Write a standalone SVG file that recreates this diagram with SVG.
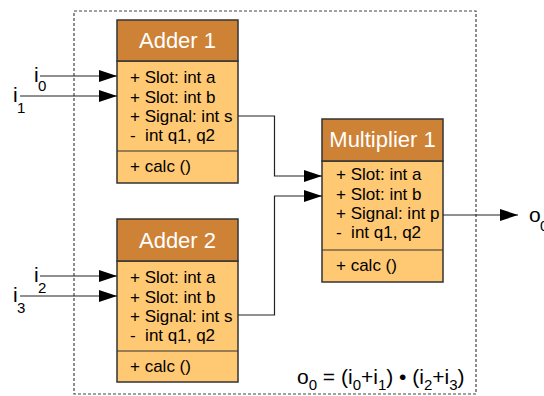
<svg xmlns="http://www.w3.org/2000/svg" width="544" height="396" viewBox="0 0 544 396">
<defs>
<marker id="ah" markerWidth="18" markerHeight="12" refX="18" refY="6" orient="auto" markerUnits="userSpaceOnUse">
<path d="M0,0 L18,6 L0,12 Z" fill="#000"/>
</marker>
<style>
.hd{fill:#CD8236;stroke:#333;stroke-width:1.5}
.bd{fill:#FFC872;stroke:#333;stroke-width:1.5}
.dv{stroke:#333;stroke-width:1.2}
.t{font-family:"Liberation Sans",Arial,sans-serif;font-size:17px;fill:#000;white-space:pre}
.h{font-family:"Liberation Sans",Arial,sans-serif;font-size:22px;fill:#fff;text-anchor:middle}
.l{font-family:"Liberation Sans",Arial,sans-serif;font-size:21px;fill:#000}
.s{font-family:"Liberation Sans",Arial,sans-serif;font-size:15px;fill:#000}
.c{fill:none;stroke:#222;stroke-width:1.2}
</style>
</defs>
<rect x="74" y="11" width="402" height="383" fill="none" stroke="#444" stroke-width="1.2" stroke-dasharray="3,2"/>
<g id="adder1">
<rect class="bd" x="117" y="61" width="121" height="122"/>
<rect class="hd" x="117" y="20" width="121" height="41"/>
<line class="dv" x1="117" y1="151" x2="238" y2="151"/>
<text class="h" x="177.5" y="48">Adder 1</text>
<text class="t" x="130" y="83">+ Slot: int a</text>
<text class="t" x="130" y="102.5">+ Slot: int b</text>
<text class="t" x="130" y="122">+ Signal: int s</text>
<text class="t" x="130" y="141">-  int q1, q2</text>
<text class="t" x="130" y="172">+ calc ()</text>
</g>
<g id="adder2">
<rect class="bd" x="117" y="261" width="121" height="121"/>
<rect class="hd" x="117" y="219" width="121" height="42"/>
<line class="dv" x1="117" y1="351" x2="238" y2="351"/>
<text class="h" x="177.5" y="248">Adder 2</text>
<text class="t" x="130" y="283">+ Slot: int a</text>
<text class="t" x="130" y="302.5">+ Slot: int b</text>
<text class="t" x="130" y="322">+ Signal: int s</text>
<text class="t" x="130" y="341">-  int q1, q2</text>
<text class="t" x="130" y="372">+ calc ()</text>
</g>
<g id="multiplier1">
<rect class="bd" x="322" y="161" width="121" height="121"/>
<rect class="hd" x="322" y="119" width="121" height="42"/>
<line class="dv" x1="322" y1="250" x2="443" y2="250"/>
<text class="h" x="382.5" y="147">Multiplier 1</text>
<text class="t" x="336" y="180">+ Slot: int a</text>
<text class="t" x="336" y="199.5">+ Slot: int b</text>
<text class="t" x="336" y="219">+ Signal: int p</text>
<text class="t" x="336" y="238">-  int q1, q2</text>
<text class="t" x="336" y="271">+ calc ()</text>
</g>
<g id="connectors">
<line class="c" x1="40" y1="76" x2="117" y2="76" marker-end="url(#ah)" stroke="#555"/>
<line class="c" x1="20" y1="96" x2="117" y2="96" marker-end="url(#ah)"/>
<line class="c" x1="40" y1="276" x2="117" y2="276" marker-end="url(#ah)" stroke="#555"/>
<line class="c" x1="20" y1="296" x2="117" y2="296" marker-end="url(#ah)"/>
<polyline class="c" points="238,116 274.5,116 274.5,176 322,176" marker-end="url(#ah)"/>
<polyline class="c" points="238,315 274.5,315 274.5,196 322,196" marker-end="url(#ah)"/>
<line class="c" x1="443" y1="215" x2="518" y2="215" marker-end="url(#ah)"/>
</g>
<g id="labels">
<text class="l" x="34" y="82">i</text><text class="s" x="38" y="91">0</text>
<text class="l" x="13" y="102">i</text><text class="s" x="17" y="113">1</text>
<text class="l" x="34" y="282">i</text><text class="s" x="38" y="293">2</text>
<text class="l" x="13" y="302">i</text><text class="s" x="17" y="313">3</text>
<text class="l" x="529" y="222">o</text><text class="s" x="540" y="231">0</text>
<text class="l" x="297" y="384">o<tspan class="s" dy="6">0</tspan><tspan dy="-6"> = (i</tspan><tspan class="s" dy="6">0</tspan><tspan dy="-6">+i</tspan><tspan class="s" dy="6">1</tspan><tspan dy="-6">) • (i</tspan><tspan class="s" dy="6">2</tspan><tspan dy="-6">+i</tspan><tspan class="s" dy="6">3</tspan><tspan dy="-6">)</tspan></text>
</g>
</svg>
